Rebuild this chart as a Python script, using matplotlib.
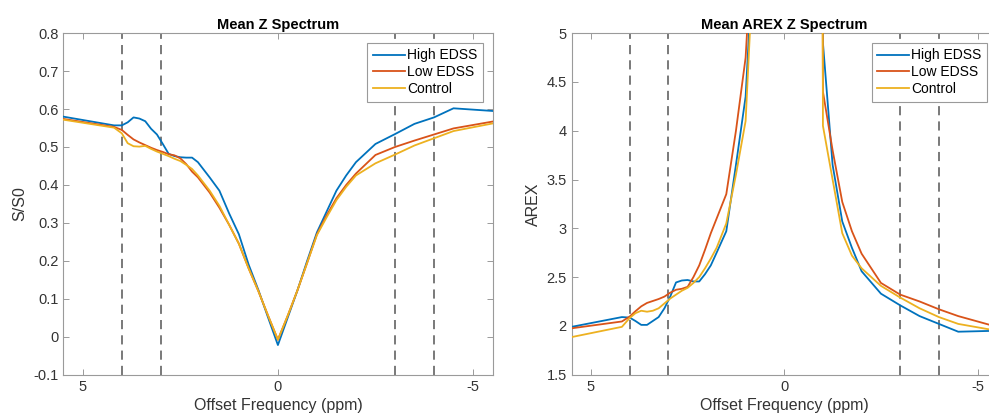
import matplotlib
matplotlib.use('Agg')
import matplotlib.pyplot as plt

plt.rcParams['font.family'] = ['Liberation Sans', 'DejaVu Sans']
plt.rcParams['axes.unicode_minus'] = False

# offsets (ppm)
x_ppm = [5.5, 4.2, 4.0, 3.85, 3.7, 3.55, 3.4, 3.25, 3.1, 2.95, 2.8, 2.65, 2.5, 2.35,
         2.2, 2.05, 1.9, 1.75, 1.5, 1.25, 1.0, 0.75, 0.5, 0.25, 0.0, -0.25, -0.5,
         -0.75, -1.0, -1.25, -1.5, -1.75, -2.0, -2.5, -3.0, -3.5, -4.0, -4.5, -5.5]

# Mean Z spectrum (S/S0)
z_high = [0.580, 0.557, 0.557, 0.565, 0.578, 0.575, 0.568, 0.548, 0.533, 0.508, 0.482,
          0.476, 0.473, 0.472, 0.472, 0.460, 0.440, 0.420, 0.385, 0.325, 0.270, 0.190,
          0.123, 0.050, -0.022, 0.050, 0.122, 0.200, 0.275, 0.330, 0.385, 0.425, 0.460,
          0.508, 0.534, 0.561, 0.578, 0.602, 0.595]
z_low = [0.574, 0.553, 0.545, 0.532, 0.520, 0.512, 0.505, 0.498, 0.492, 0.487, 0.481,
         0.478, 0.470, 0.455, 0.435, 0.420, 0.400, 0.380, 0.340, 0.295, 0.245, 0.180,
         0.120, 0.055, -0.008, 0.055, 0.122, 0.195, 0.270, 0.320, 0.365, 0.400, 0.430,
         0.479, 0.500, 0.517, 0.533, 0.549, 0.567]
z_ctrl = [0.572, 0.551, 0.536, 0.510, 0.502, 0.501, 0.503, 0.495, 0.488, 0.482, 0.476,
          0.469, 0.463, 0.453, 0.442, 0.425, 0.405, 0.385, 0.345, 0.295, 0.245, 0.180,
          0.120, 0.055, -0.008, 0.055, 0.122, 0.195, 0.268, 0.315, 0.360, 0.395, 0.425,
          0.457, 0.480, 0.504, 0.523, 0.542, 0.562]

# Mean AREX Z spectrum
a_high = [1.99, 2.09, 2.085, 2.05, 2.01, 2.01, 2.05, 2.09, 2.18, 2.30, 2.445, 2.465,
          2.47, 2.455, 2.455, 2.53, 2.62, 2.75, 2.97, 3.65, 4.35, 6.2, 15.0, 40.0, 60.0,
          40.0, 15.0, 40.0, 4.9, 3.65, 3.07, 2.80, 2.56, 2.33, 2.21, 2.10, 2.02, 1.94, 1.95]
a_low = [1.975, 2.045, 2.095, 2.15, 2.20, 2.235, 2.255, 2.275, 2.30, 2.34, 2.37, 2.38,
         2.40, 2.50, 2.62, 2.78, 2.95, 3.10, 3.35, 4.00, 4.75, 6.5, 15.0, 40.0, 60.0,
         40.0, 15.0, 40.0, 4.4, 3.80, 3.27, 2.97, 2.74, 2.44, 2.32, 2.25, 2.17, 2.10, 1.99]
a_ctrl = [1.885, 1.99, 2.08, 2.13, 2.155, 2.145, 2.155, 2.18, 2.23, 2.28, 2.32, 2.36,
          2.39, 2.44, 2.50, 2.59, 2.69, 2.80, 3.05, 3.55, 4.10, 6.15, 15.0, 40.0, 60.0,
          40.0, 15.0, 40.0, 4.05, 3.50, 2.95, 2.72, 2.59, 2.41, 2.29, 2.18, 2.09, 2.02, 1.95]

labels = ['High EDSS', 'Low EDSS', 'Control']
colors = ['#0072BD', '#D95319', '#EDB120']
pool_offsets = [4, 3, -3, -4]

fig = plt.figure(figsize=(9.89, 4.2), dpi=100)
ax1 = fig.add_axes([0.064, 0.108, 0.434, 0.813])
ax2 = fig.add_axes([0.578, 0.108, 0.430, 0.813])


def style(ax, title, ylabel):
    for s in ax.spines.values():
        s.set_color('#9a9a9a')
        s.set_linewidth(0.8)
    ax.tick_params(direction='in', top=True, right=True, length=4, width=0.7,
                   color='#9a9a9a', labelcolor='#333333', labelsize=10.5)
    ax.set_xlim(5.5, -5.5)
    ax.set_xticks([5, 0, -5])
    ax.set_xlabel('Offset Frequency (ppm)', fontsize=11.5, color='#333333', labelpad=3)
    ax.set_ylabel(ylabel, fontsize=11.5, color='#333333')
    ax.set_title(title, fontsize=10.5, fontweight='bold', pad=3)
    for p in pool_offsets:
        ax.axvline(p, color='#555555', lw=1.1, ls=(0, (6, 4)), zorder=1)
    leg = ax.legend(loc='upper right', fontsize=10, frameon=True, fancybox=False,
                    handlelength=2.3, handletextpad=0.15, borderpad=0.4,
                    labelspacing=0.2, borderaxespad=0.7)
    leg.get_frame().set_edgecolor('#9a9a9a')
    leg.get_frame().set_linewidth(0.8)
    leg.get_frame().set_alpha(1)


for ys, lab, c in zip([z_high, z_low, z_ctrl], labels, colors):
    ax1.plot(x_ppm, ys, color=c, lw=1.3, label=lab, zorder=3)
ax1.set_ylim(-0.1, 0.8)
ax1.set_yticks([-0.1, 0, 0.1, 0.2, 0.3, 0.4, 0.5, 0.6, 0.7, 0.8])
ax1.set_yticklabels(['-0.1', '0', '0.1', '0.2', '0.3', '0.4', '0.5', '0.6', '0.7', '0.8'])
style(ax1, 'Mean Z Spectrum', 'S/S0')

for ys, lab, c in zip([a_high, a_low, a_ctrl], labels, colors):
    ax2.plot(x_ppm, ys, color=c, lw=1.3, label=lab, zorder=3)
ax2.set_ylim(1.5, 5)
ax2.set_yticks([1.5, 2, 2.5, 3, 3.5, 4, 4.5, 5])
ax2.set_yticklabels(['1.5', '2', '2.5', '3', '3.5', '4', '4.5', '5'])
style(ax2, 'Mean AREX Z Spectrum', 'AREX')

fig.savefig('out.png', dpi=100)
